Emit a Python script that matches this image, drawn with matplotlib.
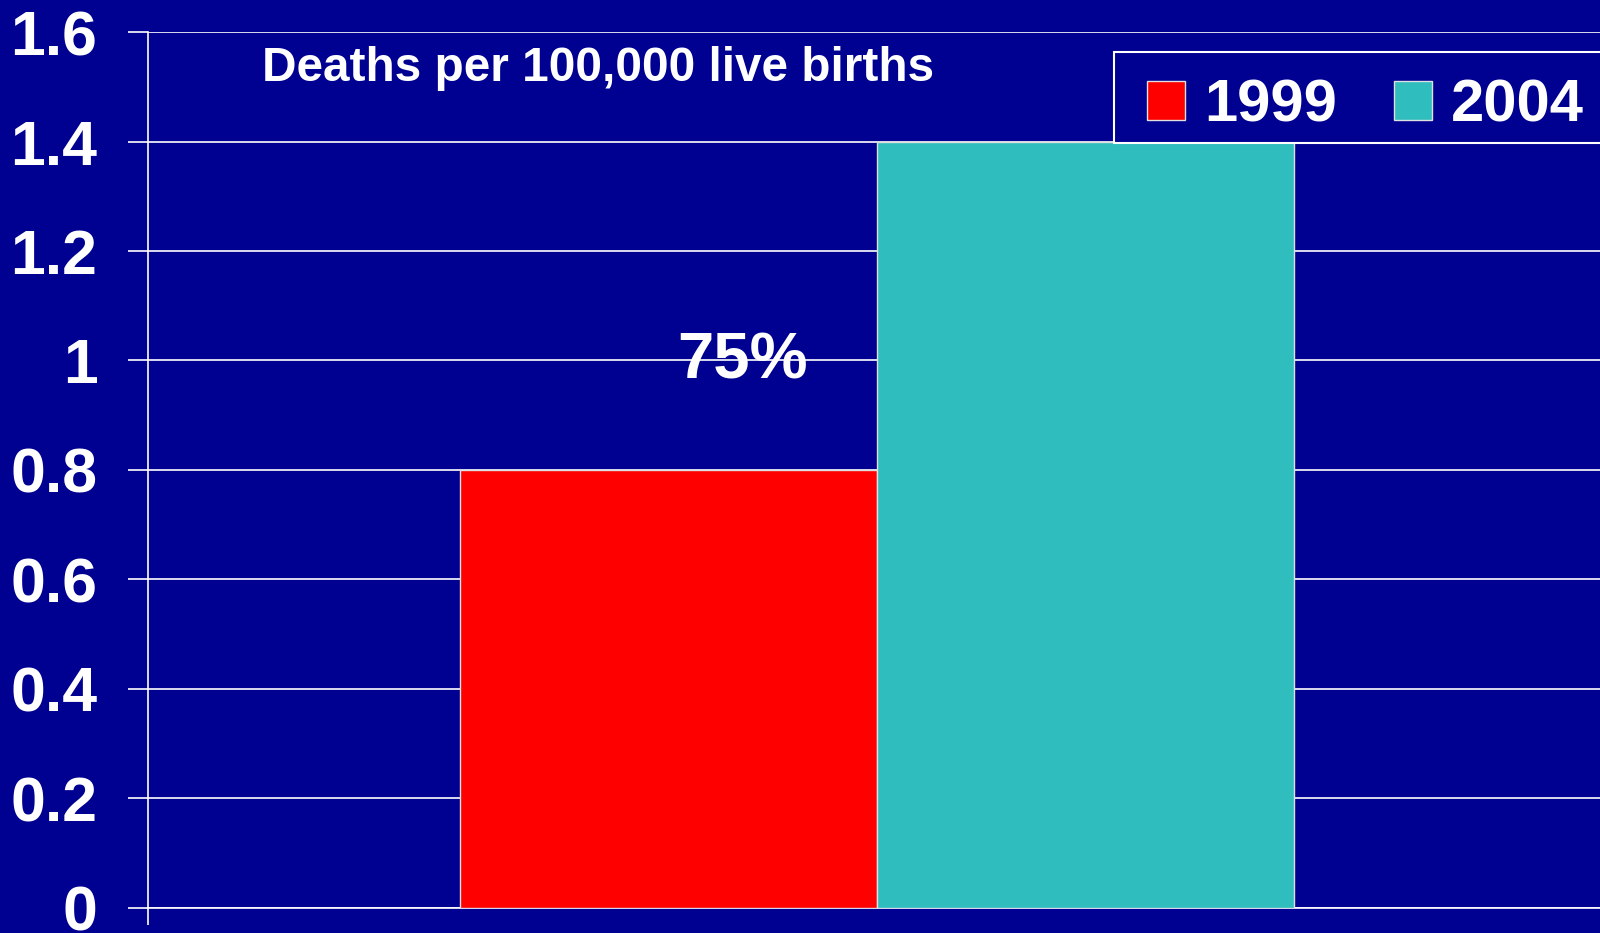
import matplotlib.pyplot as plt
from matplotlib.patches import Patch, Rectangle

plt.rcParams['font.family'] = ['Liberation Sans', 'DejaVu Sans']
plt.rcParams['font.weight'] = 'bold'

years = ['1999', '2004']
rates = [0.8, 1.4]
colors = ['#FF0000', '#30BDBD']
yticks = [0, 0.2, 0.4, 0.6, 0.8, 1.0, 1.2, 1.4, 1.6]
ytick_labels = ['0', '0.2', '0.4', '0.6', '0.8', '1', '1.2', '1.4', '1.6']
note = 'Deaths per 100,000 live births'
change = '75%'

bg = '#000091'
W, H = 1600, 933
fig = plt.figure(figsize=(16, 9.33), dpi=100, facecolor=bg)
ax = fig.add_axes([0.0925, 0.0268, 0.911, 0.9389], facecolor=bg)

# two bars side by side around the centre of a single category
w = 0.286
for i, (yr, v) in enumerate(zip(years, rates)):
    x = 0.5 + (i - 0.5) * w
    ax.bar(x, v, width=w, color=colors[i], edgecolor='#E0E0E0', linewidth=1, zorder=3)

ax.set_xlim(0, 1)
ax.set_ylim(0, 1.6)
ax.set_yticks(yticks)
ax.set_yticklabels(ytick_labels, fontsize=45, color='white', fontweight='bold')
ax.set_xticks([0, 1])
ax.set_xticklabels(['', ''])
ax.tick_params(axis='y', direction='out', length=14.4, width=1.2, color='white', pad=22)
ax.tick_params(axis='x', direction='out', length=12, width=1.2, color='white')
ax.yaxis.grid(True, color='white', linewidth=1.2, zorder=1)
ax.set_axisbelow(True)
for s in ['top', 'right']:
    ax.spines[s].set_visible(False)
for s in ['left', 'bottom']:
    ax.spines[s].set_color('white')
    ax.spines[s].set_linewidth(1.2)

fig.text(262 / W, 1 - 81 / H, note, fontsize=34.4, color='white',
         fontweight='bold', ha='left', va='baseline')
ax.text(0.408, 0.968, change, fontsize=47, color='white', fontweight='bold',
        ha='center', va='baseline', zorder=4)

# legend box runs off the right edge of the slide
fig.patches.append(Rectangle((1114 / W, 1 - 143 / H), 520 / W, 91 / H,
                             transform=fig.transFigure, facecolor=bg,
                             edgecolor='white', linewidth=1.5, zorder=5))
handles = [Patch(facecolor=c, edgecolor='#E0E0E0', linewidth=1) for c in colors]
leg = fig.legend(handles, years, loc='center left', bbox_to_anchor=(1147 / W, 1 - 106 / H),
                 ncol=2, fontsize=43, frameon=False, borderpad=0,
                 handlelength=0.63, handleheight=0.63, handletextpad=0.33,
                 columnspacing=0.95, borderaxespad=0)
leg.set_zorder(6)
for t in leg.get_texts():
    t.set_color('white')
    t.set_fontweight('bold')

fig.savefig('out.png', dpi=100, facecolor=bg)
